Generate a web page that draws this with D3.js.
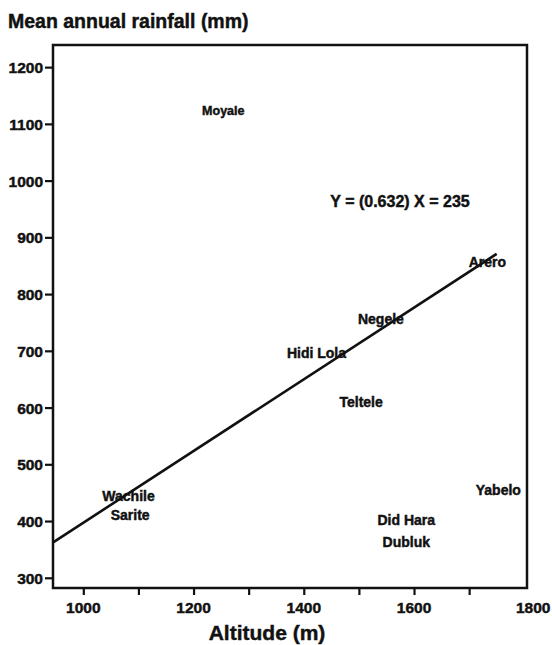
<!DOCTYPE html>
<html>
<head>
<meta charset="utf-8">
<script src="https://cdn.jsdelivr.net/npm/d3@7"></script>
<style>
  html, body { margin: 0; padding: 0; background: #fff; }
  svg text { font-family: "Liberation Sans", Arial, sans-serif; font-weight: bold; fill: #111; stroke: #111; stroke-width: 0.45px; }
</style>
</head>
<body>
<svg id="chart" width="552" height="645"></svg>
<script>
// Stations: altitude (m) and mean annual rainfall (mm)
const stations = ["Moyale", "Arero", "Negele", "Hidi Lola", "Teltele", "Wachile", "Sarite", "Did Hara", "Dubluk", "Yabelo"];
const altitude = [1254, 1733, 1540, 1423, 1504, 1082, 1085, 1586, 1586, 1753];
const rainfall = [1124, 856, 756, 696, 610, 444, 411, 402, 363, 455];

// Fitted line Y = 0.632 X - 235 over the sampled altitude range
const fitSlope = 0.632;
const fitIntercept = -235;
const fitRange = [946, 1750];
const equationLabel = "Y = (0.632) X = 235";

const yTicks = [300, 400, 500, 600, 700, 800, 900, 1000, 1100, 1200];
const xTicks = [1000, 1100, 1200, 1300, 1400, 1500, 1600, 1700];
const xLabelled = [1000, 1200, 1400, 1600, 1800];

const svg = d3.select("#chart");
const ink = "#111";

const x = d3.scaleLinear().domain([945, 1805]).range([53, 527]);
const y = d3.scaleLinear().domain([282, 1239]).range([588, 45]);

// frame
svg.append("rect")
  .attr("x", x(945)).attr("y", y(1239))
  .attr("width", x(1805) - x(945)).attr("height", y(282) - y(1239))
  .attr("fill", "none").attr("stroke", ink).attr("stroke-width", 2.5);

// left axis
const yAxis = d3.axisLeft(y).tickValues(yTicks).tickSize(8).tickPadding(2).tickFormat(d3.format("d"));
const gy = svg.append("g").attr("transform", `translate(${x(945)},0)`).call(yAxis);
gy.select(".domain").remove();
gy.selectAll(".tick line").attr("stroke", ink).attr("stroke-width", 2.2);
gy.selectAll(".tick text").attr("font-size", 15.5).attr("fill", ink).attr("dy", "0.36em");

// bottom axis: minor ticks every 100 m, labels every 200 m
const xAxis = d3.axisBottom(x).tickValues(xTicks).tickSize(7).tickFormat("");
const gx = svg.append("g").attr("transform", `translate(0,${y(282)})`).call(xAxis);
gx.select(".domain").remove();
gx.selectAll(".tick line").attr("stroke", ink).attr("stroke-width", 2.2);

svg.append("g").selectAll("text").data(xLabelled).join("text")
  .attr("x", d => x(d) + (d === 1800 ? 9 : 0))
  .attr("y", 613)
  .attr("text-anchor", "middle")
  .attr("font-size", 15.5)
  .text(d => d);

// regression line
const fitLine = d3.line().x(d => x(d)).y(d => y(fitSlope * d + fitIntercept));
svg.append("path")
  .datum(fitRange)
  .attr("d", fitLine)
  .attr("fill", "none").attr("stroke", ink).attr("stroke-width", 2.6);

// station names (Moyale is lettered a little smaller)
svg.append("g").selectAll("text").data(stations).join("text")
  .attr("x", (d, i) => x(altitude[i]))
  .attr("y", (d, i) => y(rainfall[i]))
  .attr("dy", "0.36em")
  .attr("text-anchor", "middle")
  .attr("font-size", d => d === "Moyale" ? 12.5 : 14)
  .text(d => d);

// equation
svg.append("text")
  .attr("x", 400).attr("y", 201).attr("dy", "0.36em")
  .attr("text-anchor", "middle").attr("font-size", 16)
  .text(equationLabel);

// axis titles
svg.append("text")
  .attr("x", 8).attr("y", 28)
  .attr("font-size", 19.5)
  .text("Mean annual rainfall (mm)");

svg.append("text")
  .attr("x", 267).attr("y", 640)
  .attr("text-anchor", "middle").attr("font-size", 21)
  .text("Altitude (m)");
</script>
</body>
</html>
